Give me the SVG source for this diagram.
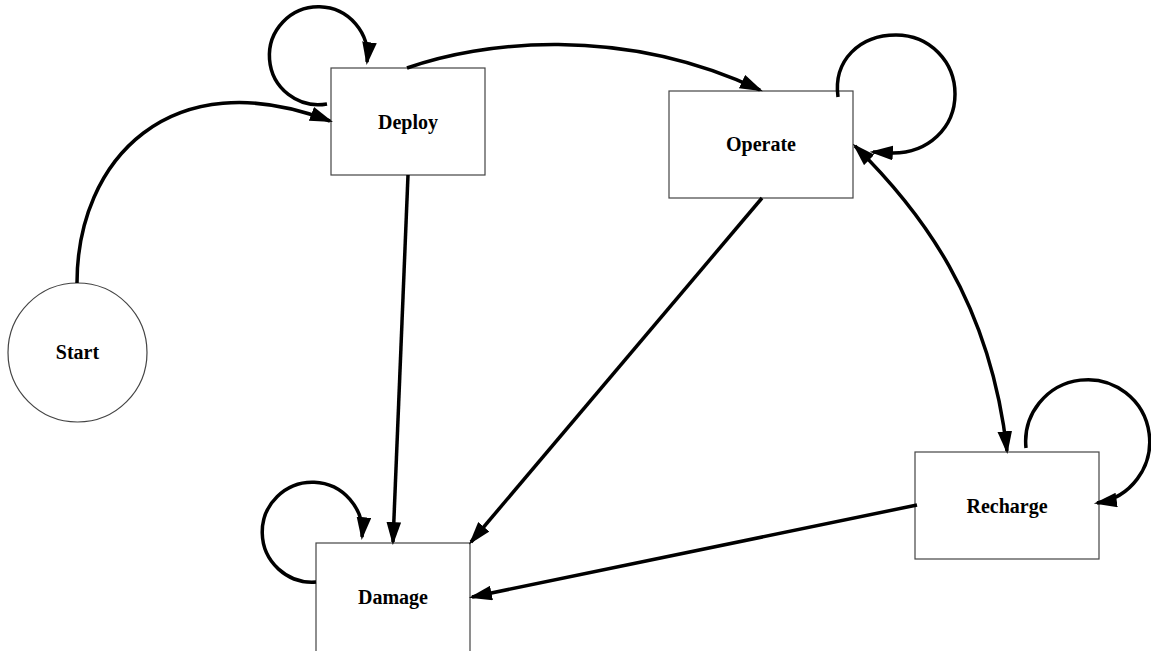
<svg xmlns="http://www.w3.org/2000/svg" width="1151" height="651" viewBox="0 0 1151 651">
<style>
.node{fill:#fff;stroke:#444;stroke-width:1.2}
.lbl{font-family:"Liberation Serif","Times New Roman",serif;font-weight:bold;font-size:20px;fill:#000;text-anchor:middle;dominant-baseline:central}
.edge{fill:none;stroke:#000;stroke-width:3.5}
</style>
<defs>
<marker id="ah" markerUnits="userSpaceOnUse" markerWidth="23" markerHeight="15" refX="19" refY="7" orient="auto-start-reverse" viewBox="0 0 22 14">
<path d="M0,0 L22,7 L0,14 z" fill="#000"/>
</marker>
</defs>
<rect width="1151" height="651" fill="#fff"/>
<g id="start"><circle class="node" cx="77.5" cy="352.5" r="69.5"/><text class="lbl" x="77.5" y="352">Start</text></g>
<g id="deploy"><rect class="node" x="331" y="68" width="154" height="107"/><text class="lbl" x="408" y="122">Deploy</text></g>
<g id="operate"><rect class="node" x="669" y="91" width="184" height="107"/><text class="lbl" x="761" y="144">Operate</text></g>
<g id="recharge"><rect class="node" x="915" y="452" width="184" height="107"/><text class="lbl" x="1007" y="506">Recharge</text></g>
<g id="damage"><rect class="node" x="316" y="543" width="154" height="110"/><text class="lbl" x="393" y="597">Damage</text></g>
<g id="connectors">
<path class="edge" d="M77,283 C77,160 170,60 330,121" marker-end="url(#ah)"/>
<path class="edge" d="M327,104 A49,49 0 1 1 367,62" marker-end="url(#ah)"/>
<path class="edge" d="M407,68 C480,42 620,24 760,90" marker-end="url(#ah)"/>
<path class="edge" d="M838,97 C833,60 860,35 896,35 C930,35 955,62 955,94 C955,128 928,153 893,153 L873,152" marker-end="url(#ah)"/>
<path class="edge" d="M855,146 C920,210 990,300 1007,451" marker-start="url(#ah)" marker-end="url(#ah)"/>
<path class="edge" d="M1026,448 A62,62 0 1 1 1097,503" marker-end="url(#ah)"/>
<path class="edge" d="M408,175 L393,542" marker-end="url(#ah)"/>
<path class="edge" d="M762,198 L471,542" marker-end="url(#ah)"/>
<path class="edge" d="M917,505 L472,597" marker-end="url(#ah)"/>
<path class="edge" d="M316,582 A50,50 0 1 1 362,537" marker-end="url(#ah)"/>
</g>
</svg>
